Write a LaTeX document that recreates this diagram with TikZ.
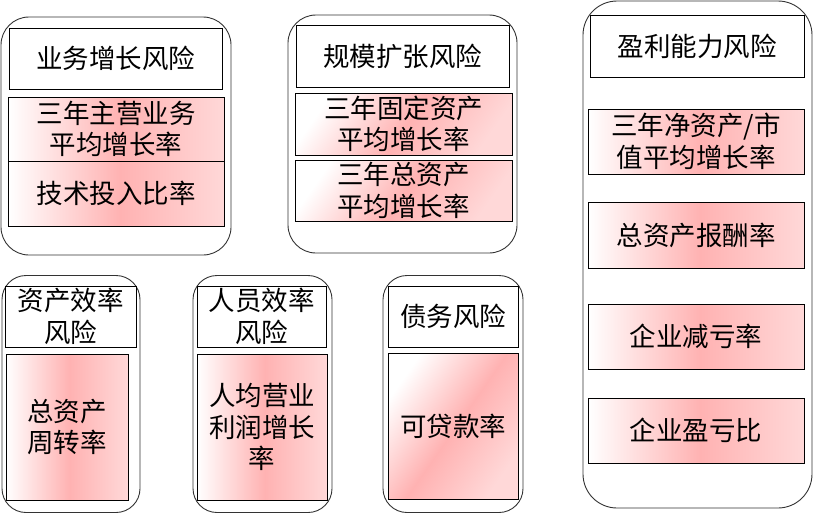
\documentclass[tikz,border=0pt]{standalone}
\usepackage{fontspec}
\setmainfont{Noto Sans CJK SC}
\definecolor{pinkmid}{RGB}{255,178,178}
\definecolor{pinkend}{RGB}{255,216,216}
\pgfdeclarehorizontalshading{pinkgrad}{100bp}{color(0bp)=(white); color(25bp)=(white); color(51bp)=(pinkmid); color(75bp)=(pinkend); color(100bp)=(pinkend)}
\tikzset{
  grp/.style={draw=black!80, line width=0.9pt, rounded corners=28pt, inner sep=0pt, fill=white},
  hdr/.style={draw=black, line width=0.9pt, fill=white, inner sep=0pt, align=center, font=\fontsize{26.5}{31.5}\selectfont},
  met/.style={draw=black, line width=0.9pt, shade, shading=pinkgrad, inner sep=0pt, align=center, font=\fontsize{26.5}{31.5}\selectfont},
  diag/.style={shading angle=-35},
}
\begin{document}
\begin{tikzpicture}[x=1pt,y=-1pt]
\useasboundingbox (0,0) rectangle (813,514);
% Group 1
\node[grp, minimum width=230pt, minimum height=238pt] (g1) at (116,136) {};
\node[hdr, minimum width=213pt, minimum height=61pt] (h1) at (115.5,58.5) {业务增长风险};
\node[met, minimum width=216pt, minimum height=64pt] (m11) at (116,129) {三年主营业务\\平均增长率};
\node[met, minimum width=216pt, minimum height=65pt] (m12) at (116,193.5) {技术投入比率};
% Group 2
\node[grp, minimum width=229pt, minimum height=238pt] (g2) at (402.5,134) {};
\node[hdr, minimum width=213pt, minimum height=62pt] (h2) at (402.5,56) {规模扩张风险};
\node[met, diag, minimum width=217pt, minimum height=62pt] (m21) at (403.5,124) {三年固定资产\\平均增长率};
\node[met, diag, minimum width=217pt, minimum height=61pt] (m22) at (403.5,190.5) {三年总资产\\平均增长率};
% Group 3
\node[grp, rounded corners=34pt, minimum width=229pt, minimum height=507pt] (g3) at (697.5,254.5) {};
\node[hdr, minimum width=214pt, minimum height=62pt] (h3) at (697,46) {盈利能力风险};
\node[met, minimum width=216pt, minimum height=65pt] (m31) at (696,141.5) {三年净资产/市\\值平均增长率};
\node[met, minimum width=216pt, minimum height=66pt] (m32) at (696,235) {总资产报酬率};
\node[met, minimum width=216pt, minimum height=65pt] (m33) at (696,336.5) {企业减亏率};
\node[met, minimum width=216pt, minimum height=65pt] (m34) at (696,430.5) {企业盈亏比};
% Group 4
\node[grp, rounded corners=24pt, minimum width=138pt, minimum height=237pt] (g4) at (71,394) {};
\node[hdr, minimum width=131pt, minimum height=61pt] (h4) at (70.5,316.5) {资产效率\\风险};
\node[met, minimum width=122pt, minimum height=146pt] (m4) at (67,427) {总资产\\周转率};
% Group 5
\node[grp, rounded corners=24pt, minimum width=139pt, minimum height=237pt] (g5) at (262.5,394) {};
\node[hdr, minimum width=129pt, minimum height=61pt] (h5) at (261.5,316.5) {人员效率\\风险};
\node[met, minimum width=130pt, minimum height=146pt] (m5) at (262,427) {人均营业\\利润增长\\率};
% Group 6
\node[grp, rounded corners=24pt, minimum width=140pt, minimum height=237pt] (g6) at (453,394) {};
\node[hdr, minimum width=130pt, minimum height=61pt] (h6) at (453,316.5) {债务风险};
\node[met, diag, minimum width=130pt, minimum height=146pt] (m6) at (453,426) {可贷款率};
\end{tikzpicture}
\end{document}
